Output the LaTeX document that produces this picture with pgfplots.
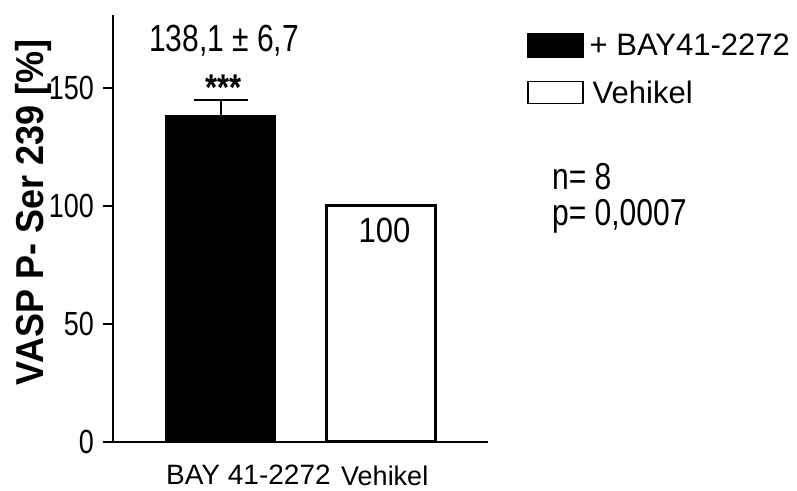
\documentclass[border=0pt]{standalone}
\usepackage{fontspec}
\setmainfont{Liberation Sans}
\usepackage{graphicx}
\usepackage{pgfplots}
\pgfplotsset{compat=1.18}
\newcommand{\fs}[1]{\fontsize{#1bp}{#1bp}\selectfont}
\newcommand{\vs}[2]{\scalebox{1}[#1]{#2}}
\begin{document}
\begin{tikzpicture}
\path[use as bounding box] (0,0) rectangle (797bp,491bp);
\begin{axis}[
  at={(113bp,49.3bp)}, anchor=south west,
  scale only axis, width=375bp, height=426.7bp,
  xmin=0.330, xmax=2.667, ymin=0, ymax=180.8,
  axis lines=left, axis line style={-, line width=2bp},
  xtick=\empty, ytick={0,50,100,150},
  tick align=outside, major tick length=10bp,
  tick style={line width=2bp, black},
  /pgf/number format/assume math mode=true,
  yticklabel={\vs{1.24}{\pgfmathprintnumber{\tick}}},
  yticklabel style={font=\fs{27}, inner sep=0pt, xshift=-9bp},
  clip=false,
  legend style={at={(axis description cs:1.104,0.958)}, anchor=north west,
    draw=none, fill=none, inner sep=0pt, row sep=23bp, font=\fs{31},
    nodes={inner sep=0pt}},
  legend cell align=left,
]
\addplot[ybar, bar shift=0pt, bar width=109bp, fill=black, draw=black, line width=2bp,
  legend image code/.code={\draw[fill=black, line width=1.5bp] (0bp,-11.5bp) rectangle (55bp,11.5bp);},
  error bars/.cd, y dir=plus, y explicit,
  error bar style={line width=2bp, black},
  error mark options={rotate=90, mark size=27bp, line width=2bp, black},
  ]
  coordinates {(1,138.1) +- (0,6.7)};
\addlegendentry{\hspace{6bp}+ BAY41-2272}
\addplot[ybar, bar shift=0pt, bar width=109bp, fill=white, draw=black, line width=2.5bp,
  legend image code/.code={\draw[fill=white, line width=1.5bp] (0bp,-11bp) rectangle (55bp,11bp);}]
  coordinates {(2,100)};
\addlegendentry{\hspace{9bp}Vehikel}
\end{axis}
\node[font=\fs{30}, anchor=base, inner sep=0pt] at (224bp,439bp) {\vs{1.26}{138,1 ± 6,7}};
\node[font=\bfseries\fs{31}, anchor=base, inner sep=0pt] at (223.5bp,390bp) {\vs{1.2}{***}};
\node[font=\fs{31}, anchor=base, inner sep=0pt] at (384.5bp,248bp) {\vs{1.13}{100}};
\node[font=\fs{30}, anchor=base west, inner sep=0pt] at (552bp,301bp) {\vs{1.25}{n= 8}};
\node[font=\fs{30}, anchor=base west, inner sep=0pt] at (552bp,265bp) {\vs{1.25}{p= 0,0007}};
\node[font=\fs{28}, anchor=base west, inner sep=0pt] at (166bp,6.5bp) {BAY 41-2272};
\node[font=\fs{27}, anchor=base west, inner sep=0pt] at (341bp,6bp) {Vehikel};
\node[rotate=90, anchor=base, inner sep=0pt, font=\bfseries\fs{36}] at (43bp,278.5bp) {\vs{1.08}{VASP P- Ser 239 [\%]}};
\end{tikzpicture}
\end{document}
